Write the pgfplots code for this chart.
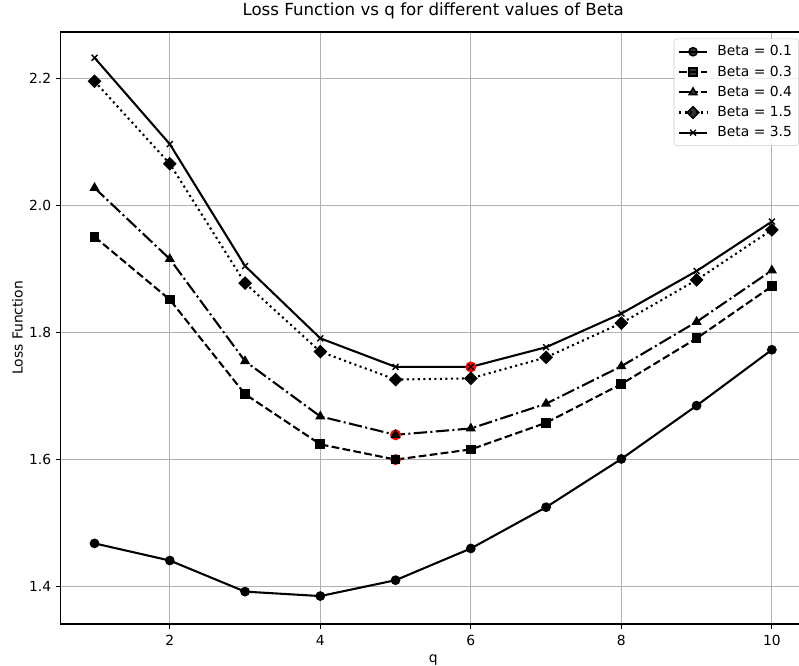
\documentclass[border=0pt]{standalone}
\usepackage{fontspec}
\setmainfont{DejaVu Sans}
\usepackage{pgfplots}
\pgfplotsset{compat=1.18}
\begin{document}
\begin{tikzpicture}
\useasboundingbox (0,0) rectangle (599.25pt,498.75pt);
\begin{axis}[
  at={(45.5pt,30.75pt)}, anchor=south west,
  scale only axis, width=558.8pt, height=444.2pt,
  xmin=0.55, xmax=10.45, ymin=1.341, ymax=2.274,
  xtick={2,4,6,8,10}, ytick={1.4,1.6,1.8,2.0,2.2},
  yticklabel style={/pgf/number format/.cd, fixed, fixed zerofill, precision=1},
  /pgf/number format/assume math mode=true,
  ticklabel style={font=\fontsize{10.4}{12.5}\selectfont},
  xticklabel style={yshift=-1.5pt},
  tick align=outside, tick pos=left, major tick length=3.6pt,
  tick style={black, line width=0.83pt},
  grid=major, grid style={color=black!31, line width=0.83pt},
  axis line style={line width=0.83pt},
  title={Loss Function vs q for different values of Beta},
  title style={font=\fontsize{12.5}{15}\selectfont, at={(rel axis cs:0.5,1)}, anchor=base, yshift=6.3pt},
  xlabel={q}, ylabel={Loss Function},
  every axis x label/.style={at={(rel axis cs:0.5,0)}, anchor=base, yshift=-28.5pt, font=\fontsize{10.4}{12.5}\selectfont},
  every axis y label/.style={at={(rel axis cs:0,0.5)}, xshift=-28.5pt, rotate=90, anchor=base, font=\fontsize{10.4}{12.5}\selectfont},
  legend cell align=left,
  legend style={at={(rel axis cs:1,1)}, anchor=north east, xshift=-5.2pt, yshift=-5.2pt,
    draw=black!20, rounded corners=2pt, fill=white, fill opacity=0.8, text opacity=1, draw opacity=1,
    font=\fontsize{10.4}{12.5}\selectfont, nodes={inner ysep=3pt},
    /tikz/every odd column/.append style={column sep=5pt}},
  legend image code/.code={\draw[mark repeat=2,mark phase=2] plot coordinates {(0pt,0pt) (10.5pt,0pt) (21pt,0pt)};},
  every axis plot/.append style={line width=1.56pt, black},
  after end axis/.code={\draw[line width=1.2pt, black] (rel axis cs:0,0) -- (rel axis cs:0,1) -- (rel axis cs:1,1);},
]
\addplot[only marks, mark=*, mark size=3.3pt, draw=red, fill=red, forget plot] coordinates {(5,1.600) (5,1.639) (6,1.746)};
\addplot[solid, mark=*, mark size=3.12pt, mark options={solid, line width=1.04pt, fill=black}] coordinates {
(1,1.468)(2,1.441)(3,1.392)(4,1.385)(5,1.410)(6,1.460)(7,1.525)(8,1.601)(9,1.685)(10,1.773)};
\addlegendentry{Beta = 0.1}
\addplot[dash pattern=on 5.8pt off 2.5pt, mark=square*, mark size=3.12pt, mark options={solid, line width=1.04pt, fill=black}] coordinates {
(1,1.951)(2,1.852)(3,1.703)(4,1.624)(5,1.600)(6,1.616)(7,1.658)(8,1.719)(9,1.791)(10,1.873)};
\addlegendentry{Beta = 0.3}
\addplot[dash pattern=on 10pt off 2.5pt on 1.56pt off 2.5pt, mark=triangle*, mark size=3.4pt, mark options={solid, line width=1.04pt, fill=black}] coordinates {
(1,2.028)(2,1.916)(3,1.755)(4,1.668)(5,1.639)(6,1.649)(7,1.688)(8,1.747)(9,1.817)(10,1.898)};
\addlegendentry{Beta = 0.4}
\addplot[dash pattern=on 1.56pt off 2.57pt, mark=square*, mark size=3.12pt, mark options={solid, rotate=45, line width=1.04pt, fill=black}] coordinates {
(1,2.196)(2,2.066)(3,1.878)(4,1.770)(5,1.726)(6,1.728)(7,1.761)(8,1.815)(9,1.883)(10,1.962)};
\addlegendentry{Beta = 1.5}
\addplot[solid, mark=x, mark size=3.12pt, mark options={solid, line width=1.04pt}] coordinates {
(1,2.233)(2,2.097)(3,1.905)(4,1.791)(5,1.746)(6,1.746)(7,1.777)(8,1.830)(9,1.897)(10,1.975)};
\addlegendentry{Beta = 3.5}
\end{axis}
\end{tikzpicture}
\end{document}
